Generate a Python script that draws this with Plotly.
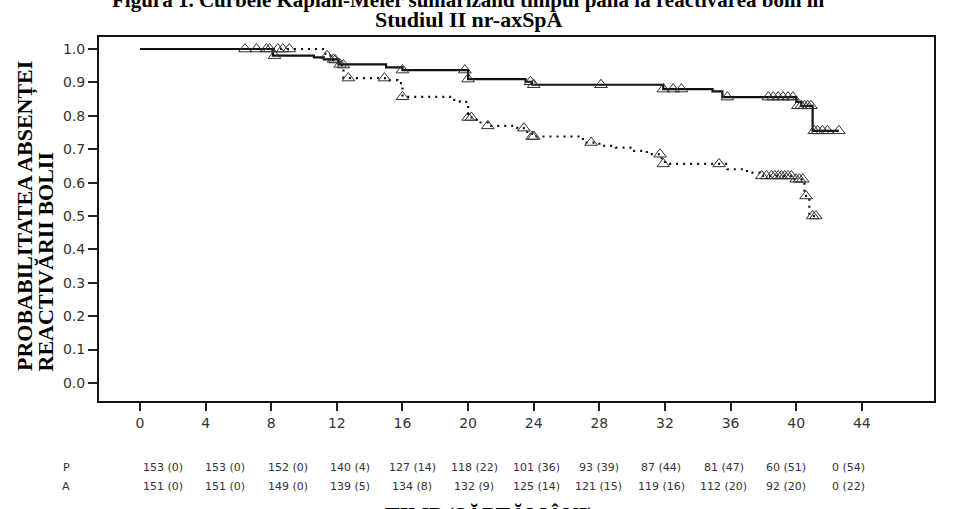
import plotly.graph_objects as go

# ---------------- data ----------------
# Kaplan-Meier steps (week of event, survival after event)
A_event_weeks = [8.1, 10.6, 11.2, 12.1, 15.0, 16.0, 20.0, 23.5, 23.9, 31.9, 34.9, 35.5, 40.0, 40.3, 41.0]
A_event_surv = [0.980, 0.975, 0.969, 0.954, 0.945, 0.937, 0.910, 0.902, 0.893, 0.880, 0.873, 0.856, 0.842, 0.830, 0.755]
A_last_week = 42.6

P_event_weeks = [11.3, 11.7, 12.1, 12.4, 15.2, 15.7, 16.0, 18.9, 19.5, 20.0, 20.5, 21.2, 23.0, 23.5, 23.9,
                 27.0, 28.0, 29.0, 30.0, 30.9, 31.8, 32.0, 35.8, 37.0, 37.8, 39.9, 40.5, 40.8]
P_event_surv = [0.980, 0.967, 0.952, 0.913, 0.907, 0.898, 0.857, 0.848, 0.842, 0.795, 0.780, 0.770, 0.763, 0.752, 0.738,
                0.720, 0.710, 0.705, 0.695, 0.685, 0.668, 0.656, 0.640, 0.630, 0.620, 0.610, 0.560, 0.500]
P_last_week = 41.2

# censored observations (week, survival)
A_cens_weeks = [6.4, 7.1, 7.7, 7.9, 8.2, 11.8, 12.2, 16.0, 19.8, 20.0, 23.8, 24.0, 28.1, 31.9, 32.5, 33.0, 35.8,
                38.3, 38.6, 38.9, 39.2, 39.5, 39.8, 40.1, 40.3, 40.5, 40.7, 40.9, 41.1, 41.3, 41.6, 41.9, 42.6]
A_cens_surv = [1.0, 1.0, 1.0, 1.0, 0.980, 0.969, 0.954, 0.937, 0.937, 0.910, 0.902, 0.893, 0.893, 0.880, 0.880, 0.880, 0.856,
               0.856, 0.856, 0.856, 0.856, 0.856, 0.856, 0.830, 0.830, 0.830, 0.830, 0.830, 0.755, 0.755, 0.755, 0.755, 0.755]

P_cens_weeks = [8.4, 8.7, 9.1, 11.4, 11.9, 12.4, 12.7, 14.9, 16.0, 20.0, 20.2, 21.2, 23.4, 23.9, 24.0, 27.5, 31.7, 31.9,
                35.3, 37.9, 38.2, 38.5, 38.7, 38.9, 39.1, 39.3, 39.5, 39.7, 40.0, 40.2, 40.4, 40.6, 41.0, 41.2]
P_cens_surv = [1.0, 1.0, 1.0, 0.980, 0.967, 0.952, 0.913, 0.913, 0.857, 0.795, 0.795, 0.770, 0.763, 0.738, 0.738, 0.720, 0.685, 0.656,
               0.656, 0.620, 0.620, 0.620, 0.620, 0.620, 0.620, 0.620, 0.620, 0.620, 0.610, 0.610, 0.610, 0.560, 0.500, 0.500]

x_ticks = [0, 4, 8, 12, 16, 20, 24, 28, 32, 36, 40, 44]
y_ticks = [0.0, 0.1, 0.2, 0.3, 0.4, 0.5, 0.6, 0.7, 0.8, 0.9, 1.0]

risk_weeks = [0, 4, 8, 12, 16, 20, 24, 28, 32, 36, 40, 44]
risk_P = ["153 (0)", "153 (0)", "152 (0)", "140 (4)", "127 (14)", "118 (22)", "101 (36)", "93 (39)", "87 (44)", "81 (47)", "60 (51)", "0 (54)"]
risk_A = ["151 (0)", "151 (0)", "149 (0)", "139 (5)", "134 (8)", "132 (9)", "125 (14)", "121 (15)", "119 (16)", "112 (20)", "92 (20)", "0 (22)"]

title_line1 = "Figura 1. Curbele Kaplan-Meier sumarizând timpul până la reactivarea bolii în"
title_line2 = "Studiul II nr-axSpA"
ytitle_line1 = "PROBABILITATEA ABSENȚEI"
ytitle_line2 = "REACTIVĂRII BOLII"
xtitle = "TIMP (SĂPTĂMÂNI)"


def km_path(weeks, surv, last):
    xs = [0.0] + list(weeks) + [last]
    ys = [1.0] + list(surv) + [surv[-1]]
    return xs, ys


fig = go.Figure()

ax, ay = km_path(A_event_weeks, A_event_surv, A_last_week)
px_, py_ = km_path(P_event_weeks, P_event_surv, P_last_week)

fig.add_trace(go.Scatter(x=px_, y=py_, mode="lines", line=dict(color="#111111", width=2.2, dash="2px,5px", shape="hv"),
                         showlegend=False, hoverinfo="skip"))
fig.add_trace(go.Scatter(x=ax, y=ay, mode="lines", line=dict(color="#111111", width=2.2, shape="hv"),
                         showlegend=False, hoverinfo="skip"))
fig.add_trace(go.Scatter(x=P_cens_weeks, y=P_cens_surv, mode="markers",
                         marker=dict(symbol="triangle-up-open", size=11, color="#333333", line=dict(width=1)),
                         showlegend=False))
fig.add_trace(go.Scatter(x=A_cens_weeks, y=A_cens_surv, mode="markers",
                         marker=dict(symbol="triangle-up-open", size=11, color="#333333", line=dict(width=1)),
                         showlegend=False))
# invisible trace to instantiate table axis
fig.add_trace(go.Scatter(x=[], y=[], xaxis="x2", yaxis="y", showlegend=False))

tick_font = dict(family="DejaVu Sans", size=14, color="#333333")
fig.update_layout(
    width=954, height=509,
    margin=dict(l=99, r=20, t=37, b=108),
    paper_bgcolor="white", plot_bgcolor="white",
    xaxis=dict(range=[-2.5, 48.4], tickvals=x_ticks, ticks="outside", ticklen=8, tickwidth=1.5, tickcolor="#222222",
               showline=True, linecolor="#111111", linewidth=2, mirror=True, showgrid=False, zeroline=False,
               tickfont=tick_font),
    yaxis=dict(range=[-0.054, 1.036], tickvals=y_ticks, tickformat=".1f", ticks="outside", ticklen=9, tickwidth=1.5,
               tickcolor="#222222", showline=True, linecolor="#111111", linewidth=2, mirror=True, showgrid=False,
               zeroline=False, tickfont=tick_font),
    xaxis2=dict(range=[-4.11, 49.52], overlaying="x", visible=False),
)

serif = "Liberation Serif"
ann = []
ann.append(dict(text=title_line1, xref="paper", yref="paper", x=0.443, y=1.063, xanchor="center", yanchor="bottom",
                showarrow=False, font=dict(family=serif, size=21, color="black", weight="bold")))
ann.append(dict(text=title_line2, xref="paper", yref="paper", x=0.443, y=1.008, xanchor="center", yanchor="bottom",
                showarrow=False, font=dict(family=serif, size=22, color="black", weight="bold")))
ann.append(dict(text=ytitle_line1, xref="paper", yref="paper", x=-0.0886, y=0.077, xanchor="center", yanchor="bottom",
                textangle=-90, showarrow=False, font=dict(family=serif, size=22, color="black", weight="bold")))
ann.append(dict(text=ytitle_line2, xref="paper", yref="paper", x=-0.0647, y=0.077, xanchor="center", yanchor="bottom",
                textangle=-90, showarrow=False, font=dict(family=serif, size=22, color="black", weight="bold")))
ann.append(dict(text=xtitle, xref="paper", yref="paper", x=(490 - 99) / 835, y=-0.273, xanchor="center", yanchor="top",
                showarrow=False, font=dict(family=serif, size=22, color="black", weight="bold")))

table_font = dict(family="DejaVu Sans", size=11, color="#333333")
row_y = {"P": -0.184, "A": -0.236}
for lab, vals in (("P", risk_P), ("A", risk_A)):
    ann.append(dict(text=lab, xref="paper", yref="paper", x=(66 - 99) / 835, y=row_y[lab], xanchor="center",
                    yanchor="middle", showarrow=False, font=table_font))
    for w, v in zip(risk_weeks, vals):
        ann.append(dict(text=v, xref="x2", yref="paper", x=w, y=row_y[lab], xanchor="center", yanchor="middle",
                        showarrow=False, font=table_font))

fig.update_layout(annotations=ann)
fig.write_html("out.html")
